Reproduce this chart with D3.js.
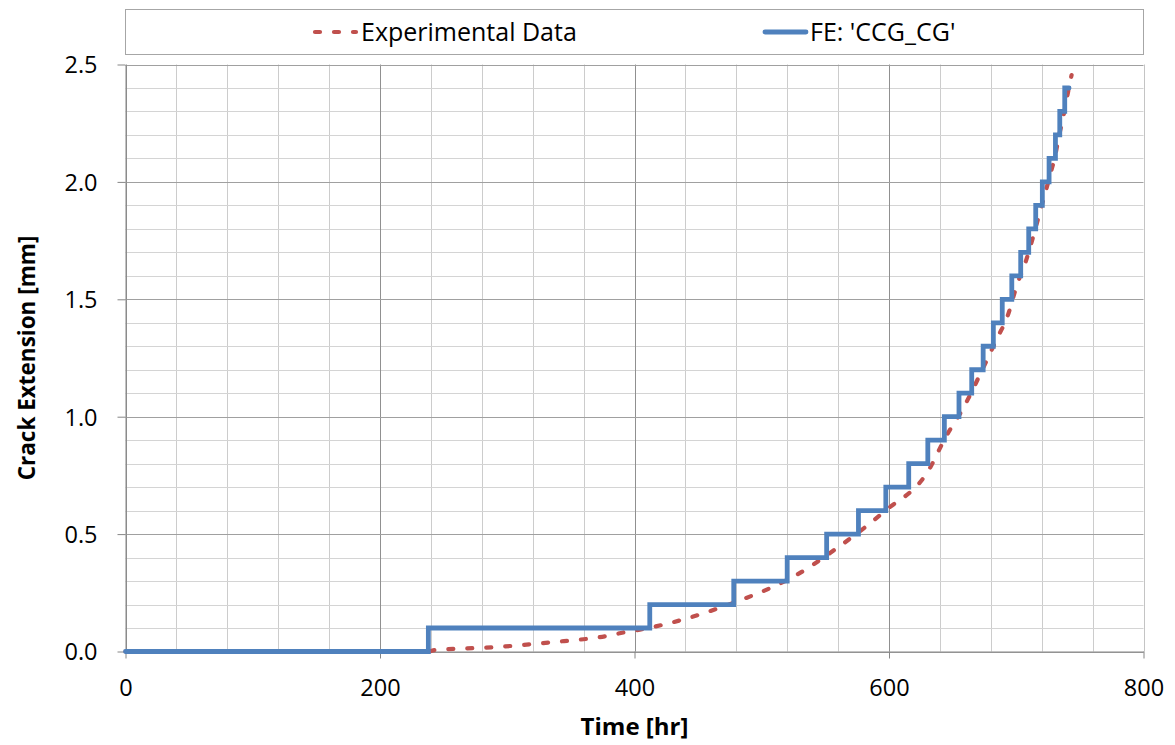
<!DOCTYPE html>
<html><head><meta charset="utf-8">
<script src="https://cdn.jsdelivr.net/npm/d3@7"></script>
<style>body{margin:0;background:#fff}svg{display:block}</style>
</head><body>
<script>
const feTimes = [0, 238, 412, 478, 520, 551, 576, 597.5, 615.5, 630.5, 643.5, 655, 665, 674, 682, 689, 696.5, 703.5, 709.8, 715.3, 720.5, 725.8, 730.8, 734.2, 738.1, 741.5];
const feValues = [0, 0.1, 0.2, 0.3, 0.4, 0.5, 0.6, 0.7, 0.8, 0.9, 1.0, 1.1, 1.2, 1.3, 1.4, 1.5, 1.6, 1.7, 1.8, 1.9, 2.0, 2.1, 2.2, 2.3, 2.4, 2.4];
const expTimes = [0, 238, 243, 289, 334, 378, 394, 407, 438, 480, 509, 525, 559, 596, 632, 644, 659, 672, 685, 693, 701, 707, 711, 715, 719, 723, 727, 731, 733.5, 737, 740, 742.6, 743.5];
const expValues = [0, 0, 0.006, 0.018, 0.039, 0.066, 0.084, 0.096, 0.136, 0.212, 0.276, 0.319, 0.44, 0.595, 0.78, 0.908, 1.043, 1.185, 1.334, 1.426, 1.568, 1.653, 1.724, 1.80, 1.88, 1.958, 2.037, 2.122, 2.193, 2.278, 2.363, 2.434, 2.455];
const xTicks = [0, 200, 400, 600, 800];
const yTicks = [0, 0.5, 1.0, 1.5, 2.0, 2.5];
const seriesNames = ["Experimental Data", "FE: 'CCG_CG'"];

const W = 1175, H = 745;
const svg = d3.select("body").append("svg").attr("width", W).attr("height", H);
const x = d3.scaleLinear().domain([0, 800]).range([125.5, 1143.5]);
const y = d3.scaleLinear().domain([0, 2.5]).range([651.5, 64.5]);
const font = "'Open Sans', sans-serif";

// minor grid
const g = svg.append("g");
d3.range(0, 801, 40).filter(v => v % 200 !== 0).forEach(v => {
  g.append("line").attr("x1", Math.round(x(v)) + 0.5).attr("x2", Math.round(x(v)) + 0.5)
    .attr("y1", y(2.5)).attr("y2", y(0)).attr("stroke", "#cccccc").attr("stroke-width", 1);
});
d3.range(0, 26, 1).map(v => v / 10).filter((v, i) => i % 5 !== 0).forEach(v => {
  g.append("line").attr("y1", Math.round(y(v)) + 0.5).attr("y2", Math.round(y(v)) + 0.5)
    .attr("x1", x(0)).attr("x2", x(800)).attr("stroke", "#d4d4d4").attr("stroke-width", 1);
});
// major grid
xTicks.forEach(v => {
  g.append("line").attr("x1", Math.round(x(v)) + 0.5).attr("x2", Math.round(x(v)) + 0.5)
    .attr("y1", y(2.5)).attr("y2", y(0)).attr("stroke", v === 800 ? "#c4c4c4" : "#909090").attr("stroke-width", 1);
});
yTicks.forEach(v => {
  g.append("line").attr("y1", Math.round(y(v)) + 0.5).attr("y2", Math.round(y(v)) + 0.5)
    .attr("x1", x(0)).attr("x2", x(800)).attr("stroke", "#a0a0a0").attr("stroke-width", 1);
});

// axes
const xAxis = d3.axisBottom(x).tickValues(xTicks).tickFormat(d3.format("d")).tickSizeInner(7).tickSizeOuter(0).tickPadding(21);
const gx = svg.append("g").attr("transform", `translate(0,${y(0)})`).call(xAxis);
const yAxis = d3.axisLeft(y).tickValues(yTicks).tickFormat(d3.format(".1f")).tickSizeInner(8).tickSizeOuter(0).tickPadding(20);
const gy = svg.append("g").attr("transform", `translate(${x(0)},0)`).call(yAxis);
[gx, gy].forEach(a => {
  a.select(".domain").attr("stroke", "#868686");
  a.selectAll(".tick line").attr("stroke", "#868686");
  a.selectAll(".tick text").attr("fill", "#000").attr("font-family", font).attr("font-size", "23.5px");
});
gy.selectAll(".tick text").attr("dy", "0.36em");

// series
const expData = expTimes.map((t, i) => [t, expValues[i]]);
const feData = feTimes.map((t, i) => [t, feValues[i]]);
svg.append("path").datum(expData)
  .attr("d", d3.line().x(d => x(d[0])).y(d => y(d[1])).curve(d3.curveMonotoneX))
  .attr("fill", "none").attr("stroke", "#C0504D").attr("stroke-width", 4.2)
  .attr("stroke-dasharray", "5,14").attr("stroke-linecap", "round");
svg.append("path").datum(feData)
  .attr("d", d3.line().x(d => x(d[0])).y(d => y(d[1])).curve(d3.curveStepAfter))
  .attr("fill", "none").attr("stroke", "#4F81BD").attr("stroke-width", 4.8)
  .attr("stroke-linejoin", "miter").attr("stroke-linecap", "round");

// legend
svg.append("rect").attr("x", 125.5).attr("y", 9.5).attr("width", 1018).attr("height", 45)
  .attr("fill", "#fff").attr("stroke", "#a6a6a6").attr("stroke-width", 1);
svg.append("line").attr("x1", 315).attr("x2", 356).attr("y1", 32).attr("y2", 32)
  .attr("stroke", "#C0504D").attr("stroke-width", 4.2).attr("stroke-dasharray", "5,14").attr("stroke-linecap", "round");
svg.append("text").attr("x", 361).attr("y", 32).attr("dy", "0.36em").text(seriesNames[0])
  .attr("font-family", font).attr("font-size", "25px").attr("fill", "#000");
svg.append("line").attr("x1", 765).attr("x2", 806).attr("y1", 32).attr("y2", 32)
  .attr("stroke", "#4F81BD").attr("stroke-width", 4.8).attr("stroke-linecap", "round");
svg.append("text").attr("x", 810).attr("y", 32).attr("dy", "0.36em").text(seriesNames[1])
  .attr("font-family", font).attr("font-size", "25px").attr("fill", "#000");

// axis titles
svg.append("text").attr("x", 634.5).attr("y", 726).attr("dy", "0.36em").attr("text-anchor", "middle")
  .text("Time [hr]").attr("font-family", font).attr("font-weight", "bold").attr("font-size", "24px");
svg.append("text").attr("transform", "translate(27,358) rotate(-90)").attr("dy", "0.36em").attr("text-anchor", "middle")
  .text("Crack Extension [mm]").attr("font-family", font).attr("font-weight", "bold").attr("font-size", "22.5px");
</script>
</body></html>
